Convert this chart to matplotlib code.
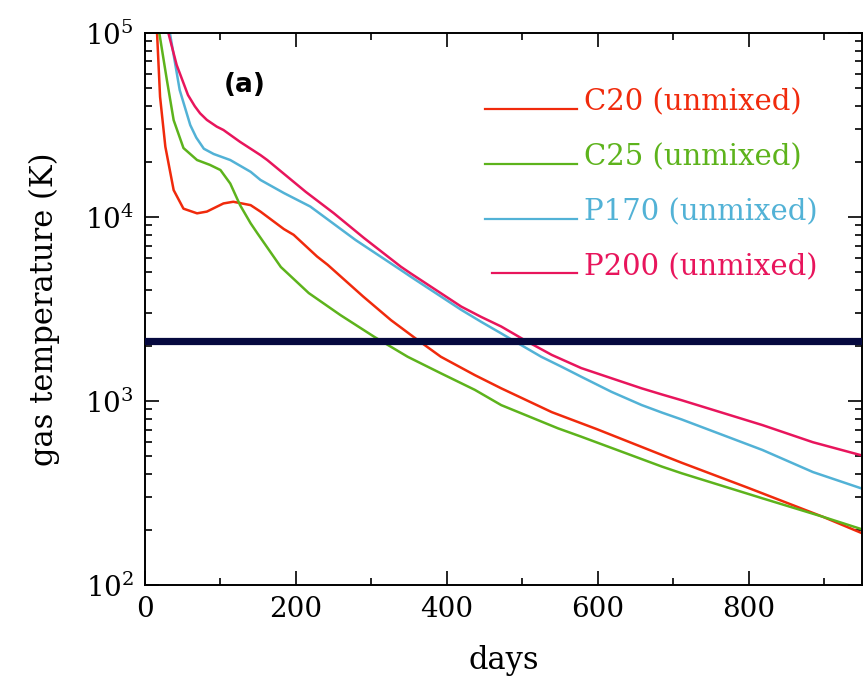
import numpy as np
import matplotlib
matplotlib.use('Agg')
import matplotlib.pyplot as plt
import matplotlib.ticker as mticker

plt.rcParams['font.family'] = 'DejaVu Serif'
plt.rcParams['mathtext.fontset'] = 'dejavuserif'

# gas temperature tracks (days, K)
c20_days = [10, 16, 20, 27, 38, 51, 69, 82, 104, 117, 140, 153, 184, 197, 228,
            242, 289, 326, 361, 392, 437, 472, 539, 578, 598, 685, 711, 797,
            818, 898, 953]
c20_temp = [2.2e5, 1.0e5, 4.5e4, 2.41e4, 1.40e4, 1.11e4, 1.047e4, 1.07e4,
            1.185e4, 1.21e4, 1.16e4, 1.07e4, 8.6e3, 8.0e3, 6.1e3, 5.5e3,
            3.7e3, 2.75e3, 2.15e3, 1.74e3, 1.383e3, 1.172e3, 870, 757, 705,
            509, 462, 340, 315, 235, 189]

c25_days = [13, 19, 29, 38, 51, 69, 86, 100, 113, 126, 140, 149, 180, 217,
            259, 304, 348, 392, 437, 472, 547, 578, 685, 711, 818, 898, 953]
c25_temp = [2.2e5, 1.0e5, 5.56e4, 3.36e4, 2.37e4, 2.04e4, 1.92e4, 1.8e4,
            1.52e4, 1.16e4, 9.24e3, 8.15e3, 5.35e3, 3.86e3, 2.93e3, 2.23e3,
            1.74e3, 1.415e3, 1.15e3, 950, 711, 640, 440, 405, 296, 235, 199]

p170_days = [27, 33, 46, 60, 68, 78, 91, 113, 140, 153, 184, 219, 279, 339,
             352, 419, 445, 472, 489, 525, 552, 578, 618, 658, 685, 711, 818,
             885, 953]
p170_temp = [1.8e5, 1.0e5, 4.9e4, 3.16e4, 2.7e4, 2.35e4, 2.2e4, 2.04e4,
             1.76e4, 1.59e4, 1.35e4, 1.14e4, 7.5e3, 5.15e3, 4.74e3, 3.13e3,
             2.7e3, 2.33e3, 2.12e3, 1.74e3, 1.535e3, 1.355e3, 1.122e3, 951,
             865, 794, 542, 411, 331]

p200_days = [25, 31, 42, 57, 66, 73, 82, 95, 104, 126, 153, 162, 213, 250,
             290, 339, 352, 419, 445, 472, 505, 539, 578, 618, 658, 685, 711,
             818, 885, 953]
p200_temp = [2.0e5, 1.0e5, 6.7e4, 4.6e4, 4.0e4, 3.66e4, 3.37e4, 3.1e4,
             2.97e4, 2.56e4, 2.17e4, 2.04e4, 1.37e4, 1.05e4, 7.7e3, 5.37e3,
             4.94e3, 3.26e3, 2.87e3, 2.54e3, 2.12e3, 1.78e3, 1.51e3, 1.33e3,
             1.172e3, 1.085e3, 1.01e3, 740, 597, 502]

labels = ['C20 (unmixed)', 'C25 (unmixed)', 'P170 (unmixed)', 'P200 (unmixed)']
colors = ['#f02a0c', '#5db31c', '#52b2d6', '#e8155c']
dust_temp = 2120

fig = plt.figure(figsize=(8.66, 6.93), dpi=100)
ax = fig.add_axes([0.1674, 0.1558, 0.828, 0.7966])

series = [(c20_days, c20_temp), (c25_days, c25_temp),
          (p170_days, p170_temp), (p200_days, p200_temp)]
for (d, t), c in zip(series, colors):
    ax.plot(d, t, color=c, lw=1.8)

ax.axhline(dust_temp, color='#06093f', lw=5.2, zorder=3)

ax.set_yscale('log')
ax.set_xlim(0, 950)
ax.set_ylim(1e2, 1e5)
ax.xaxis.set_major_locator(mticker.MultipleLocator(200))
ax.xaxis.set_minor_locator(mticker.MultipleLocator(100))
ax.yaxis.set_minor_locator(mticker.LogLocator(base=10, subs=np.arange(2, 10)))
ax.yaxis.set_minor_formatter(mticker.NullFormatter())

ax.tick_params(which='both', direction='in', top=True, right=True,
               labelsize=20, width=1.2, colors='black')
ax.tick_params(which='major', length=10, pad=8)
ax.tick_params(which='minor', length=5)
for s in ax.spines.values():
    s.set_linewidth(1.4)

ax.set_xlabel('days', fontsize=22, labelpad=16)
ax.set_ylabel('gas temperature (K)', fontsize=22, labelpad=18)

ax.text(0.139, 0.906, '(a)', transform=ax.transAxes, fontsize=19,
        fontweight='bold', family='DejaVu Sans', ha='center', va='center')

# legend drawn by hand: short line then coloured label
text_y = [0.875, 0.775, 0.676, 0.576]
line_y = [0.862, 0.763, 0.663, 0.565]
line_x0 = [0.474, 0.474, 0.474, 0.484]
for lab, c, ty, ly, x0 in zip(labels, colors, text_y, line_y, line_x0):
    ax.plot([x0, 0.6025], [ly, ly], color=c, lw=1.6, transform=ax.transAxes)
    ax.text(0.612, ty, lab, color=c, fontsize=21, transform=ax.transAxes,
            ha='left', va='center')

fig.savefig('out.png', dpi=100, facecolor='white')
